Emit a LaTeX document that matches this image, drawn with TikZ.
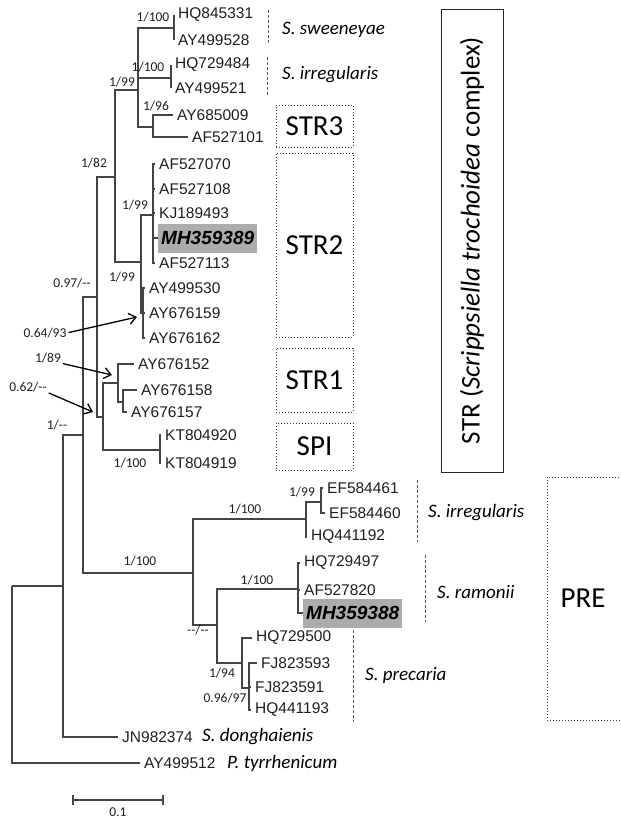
\documentclass[tikz,border=0pt]{standalone}
\usepackage{fontspec}
\setmainfont{Carlito}
\newfontfamily\accfont{Liberation Sans}
\usepackage{tikz}
\usetikzlibrary{arrows.meta, positioning, calc}
\usepackage{xcolor}
\definecolor{branchgray}{RGB}{68,68,68}
\definecolor{hilitegray}{RGB}{172,172,172}
\definecolor{textgray}{RGB}{30,30,30}
\newcommand{\nosup}{{-}{-}}
\tikzset{
  branch/.style={line width=1.2pt, draw=branchgray},
  leaf/.style={anchor=west, inner xsep=4pt, inner ysep=0pt, text=textgray, font=\accfont\fontsize{15.5}{16}\selectfont},
  hilite/.style={anchor=west, fill=hilitegray, inner xsep=3pt, inner ysep=0pt, minimum height=29pt, font=\accfont\bfseries\itshape\fontsize{19}{20}\selectfont},
  support/.style={inner sep=0pt, text=textgray, font=\fontsize{13.5}{14}\selectfont},
  species/.style={anchor=west, inner sep=0pt, font=\itshape\fontsize{19}{20}\selectfont},
  cladebox/.style={draw=black!80, dotted, line width=1pt, minimum width=77pt, font=\fontsize{29}{30}\selectfont},
  complexbox/.style={draw=black!85, line width=1pt, rotate=90, minimum width=463pt, minimum height=62pt, font=\fontsize{27}{28}\selectfont},
  speciesline/.style={draw=black!65, line width=0.9pt, dash pattern=on 3pt off 2pt},
  pointer/.style={-{Straight Barb[length=7pt,width=11pt]}, line width=1.3pt, shorten <=2pt}
}

\begin{document}
\begin{tikzpicture}[x=1pt,y=-1pt]
  \useasboundingbox (0,0) rectangle (621,820);
  % internal nodes of the tree
  \coordinate (root) at (12,586);
  \coordinate (ingroup) at (63,586);
  \coordinate (strpre) at (83,435);
  \coordinate (strall) at (97,297);
  \coordinate (strcore) at (115,177);
  \coordinate (strtop) at (138,90);
  \coordinate (swe) at (174,28);
  \coordinate (irr) at (171,78);
  \coordinate (str3) at (153,127);
  \coordinate (str2a) at (141,262);
  \coordinate (str2b) at (153,215);
  \coordinate (str2c) at (143,313);
  \coordinate (str1spi) at (103,417);
  \coordinate (str1) at (118,383);
  \coordinate (str1b) at (123,402);
  \coordinate (spi) at (160,450);
  \coordinate (pre) at (193,573);
  \coordinate (preirr) at (306,519);
  \coordinate (preirrb) at (321,502);
  \coordinate (preram) at (217,625);
  \coordinate (ramonii) at (298,589);
  \coordinate (precaria) at (242,663);
  \coordinate (precb) at (249,688);

  % tips
  \node[leaf] (hq845331) at (174,15) {HQ845331};
  \node[leaf] (ay499528) at (174,40) {AY499528};
  \node[leaf] (hq729484) at (171,65) {HQ729484};
  \node[leaf] (ay499521) at (171,88) {AY499521};
  \node[leaf] (ay685009) at (173,115) {AY685009};
  \node[leaf] (af527101) at (188,137) {AF527101};
  \node[leaf] (af527070) at (155,164) {AF527070};
  \node[leaf] (af527108) at (155,189) {AF527108};
  \node[leaf] (kj189493) at (155,213) {KJ189493};
  \node[hilite] (mh359389) at (158,238) {MH359389};
  \node[leaf] (af527113) at (155,263) {AF527113};
  \node[leaf] (ay499530) at (145,288) {AY499530};
  \node[leaf] (ay676159) at (145,313) {AY676159};
  \node[leaf] (ay676162) at (145,338) {AY676162};
  \node[leaf] (ay676152) at (134,364) {AY676152};
  \node[leaf] (ay676158) at (137,390) {AY676158};
  \node[leaf] (ay676157) at (127,412) {AY676157};
  \node[leaf] (kt804920) at (161,435) {KT804920};
  \node[leaf] (kt804919) at (161,463) {KT804919};
  \node[leaf] (ef584461) at (323,488) {EF584461};
  \node[leaf] (ef584460) at (325,513) {EF584460};
  \node[leaf] (hq441192) at (307,537) {HQ441192};
  \node[leaf] (hq729497) at (300,563) {HQ729497};
  \node[leaf] (af527820) at (300,590) {AF527820};
  \node[hilite] (mh359388) at (303,613) {MH359388};
  \node[leaf] (hq729500) at (252,638) {HQ729500};
  \node[leaf] (fj823593) at (257,663) {FJ823593};
  \node[leaf] (fj823591) at (251,687) {FJ823591};
  \node[leaf] (hq441193) at (251,710) {HQ441193};
  \node[leaf] (jn982374) at (118,737) {JN982374};
  \node[leaf] (ay499512) at (140,763) {AY499512};

  \foreach \p/\c in {root/ingroup, ingroup/strpre, strpre/strall, strpre/pre,
      strall/strcore, strall/str1spi, strcore/strtop, strcore/str2a,
      strtop/swe, strtop/irr, strtop/str3, str2a/str2b, str2a/str2c,
      str1spi/str1, str1spi/spi, str1/str1b, pre/preirr, pre/preram,
      preirr/preirrb, preram/ramonii, preram/precaria, precaria/precb}
    \draw[branch] (\p) |- (\c);
  \foreach \p/\c in {root/ay499512, ingroup/jn982374, swe/hq845331, swe/ay499528,
      irr/hq729484, irr/ay499521, str3/ay685009, str3/af527101,
      str2b/af527070, str2b/af527108, str2b/kj189493, str2b/mh359389, str2b/af527113,
      str2c/ay499530, str2c/ay676159, str2c/ay676162,
      str1/ay676152, str1b/ay676158, str1b/ay676157, spi/kt804920, spi/kt804919,
      preirrb/ef584461, preirrb/ef584460, preirr/hq441192,
      ramonii/hq729497, ramonii/af527820, ramonii/mh359388,
      precaria/hq729500, precb/fj823593, precb/fj823591, precb/hq441193}
    \draw[branch] (\p) |- (\c.west);

  % support values
  \node[support] (bs-swe) at (153,17) {1/100};
  \node[support] (bs-irr) at (148,67) {1/100};
  \node[support] (bs-str3) at (156,106) {1/96};
  \node[support] (bs-strtop) at (122,82) {1/99};
  \node[support] (bs-strcore) at (94,163) {1/82};
  \node[support] (bs-str2b) at (135,205) {1/99};
  \node[support] (bs-str2a) at (122,277) {1/99};
  \node[support] (bs-strall) at (72,283) {0.97/\nosup};
  \node[support] (bs-strpre) at (57,425) {1/\nosup};
  \node[support] (bs-spi) at (130,463) {1/100};
  \node[support] (bs-pre) at (140,561) {1/100};
  \node[support] (bs-preirr) at (245,509) {1/100};
  \node[support] (bs-preirrb) at (302,492) {1/99};
  \node[support] (bs-ramonii) at (257,580) {1/100};
  \node[support] (bs-preram) at (198,630) {\nosup/\nosup};
  \node[support] (bs-precaria) at (222,673) {1/94};
  \node[support] (bs-precb) at (225,698) {0.96/97};
  \node[support] (bs-str2c) at (45,333) {0.64/93};
  \node[support] (bs-str1) at (48,358) {1/89};
  \node[support] (bs-str1spi) at (28,387) {0.62/\nosup};
  \coordinate (tip-str2c) at (137,317);
  \coordinate (tip-str1) at (112,375);
  \coordinate (tip-str1spi) at (93,412);
  \draw[pointer] (bs-str2c.east) -- (tip-str2c);
  \draw[pointer] (bs-str1.south east) -- (tip-str1);
  \draw[pointer] (bs-str1spi.south east) -- (tip-str1spi);

  % species and clades
  \draw[speciesline] (268,10) -- (268,45);
  \node[species] (sp-swe) at (282,30) {S. sweeneyae};
  \draw[speciesline] (267,57) -- (267,95);
  \node[species] (sp-irr) at (282,75) {S. irregularis};
  \draw[speciesline] (417,480) -- (417,542);
  \node[species] (sp-irr2) at (428,513) {S. irregularis};
  \draw[speciesline] (425,555) -- (425,622);
  \node[species] (sp-ram) at (437,592) {S. ramonii};
  \draw[speciesline] (353,630) -- (353,722);
  \node[species] (sp-pre) at (365,675) {S. precaria};
  \node[species] (sp-don) at (202,737) {S. donghaienis};
  \node[species] (sp-tyr) at (227,763) {P. tyrrhenicum};

  \node[cladebox, minimum height=42pt] (box-str3) at (314.5,126) {STR3};
  \node[cladebox, minimum height=184pt] (box-str2) at (314.5,245) {STR2};
  \node[cladebox, minimum height=64pt] (box-str1) at (314.5,380) {STR1};
  \node[cladebox, minimum height=47pt] (box-spi) at (314.5,446.5) {SPI};
  \node[complexbox] (box-str) at (472,240.5) {STR (\textit{Scrippsiella trochoidea} complex)};
  \draw[draw=black!80, dotted, line width=1pt] (625,477) -| (547,720) -- (625,720);
  \node[inner sep=0pt, font=\fontsize{29}{30}\selectfont] (lbl-pre) at (583,598) {PRE};

  % scale bar
  \draw[branch] (73,800) -- (163,800);
  \draw[branch] (73,795) -- (73,805);
  \draw[branch] (163,795) -- (163,805);
  \node[support] (scale) at (118,812) {0.1};
\end{tikzpicture}
\end{document}
